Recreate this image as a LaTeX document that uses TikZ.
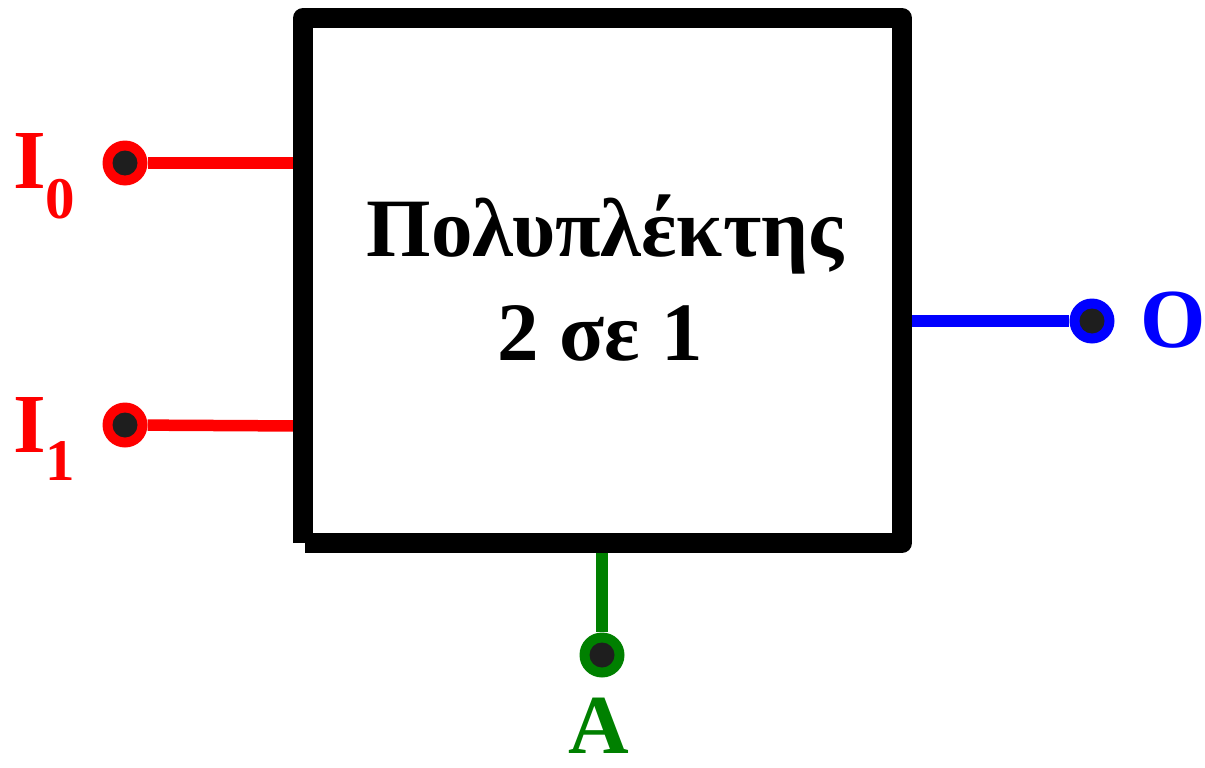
\documentclass[tikz,border=0pt]{standalone}
\usepackage{fontspec}
\setmainfont{Liberation Serif}
\usetikzlibrary{positioning}
\definecolor{wirered}{RGB}{255,0,0}
\definecolor{wireblue}{RGB}{0,0,255}
\definecolor{wiregreen}{RGB}{0,128,0}
\definecolor{dotgray}{RGB}{30,30,30}

\begin{document}
\begin{tikzpicture}[
    x=1pt, y=-1pt,
    boxline/.style={line width=20pt, black, line join=round, line cap=butt},
    wire/.style={line width=11.5pt, #1},
    term/.style={circle, fill=#1, inner sep=0pt, minimum size=45pt,
        path picture={\fill[dotgray] (path picture bounding box.center) circle (12.5pt);}},
    lbl/.style={font=\fontsize{84}{84}\selectfont\bfseries, text=#1, inner sep=0pt},
    title/.style={font=\fontsize{83}{83}\selectfont\bfseries, inner sep=0pt, anchor=base},
]
\useasboundingbox (0,0) rectangle (1205,768);

%--- Coordinates ---
\def\bxL{303}     % box left edge
\def\bxR{902}     % box right edge
\def\bxT{18}      % box top edge
\def\bxB{543}     % box bottom edge
\def\sub#1#2{\raisebox{-#1pt}{\fontsize{59}{59}\selectfont #2}}

%============================================================
% Terminals
%============================================================
\node[term=wirered]   (i0) at (125,163) {};
\node[term=wirered]   (i1) at (125,425) {};
\node[term=wireblue]  (o)  at (1092,321) {};
\node[term=wiregreen] (a)  at (602,655) {};

\coordinate (i0in) at (\bxL,163);
\coordinate (i1in) at (\bxL,426);
\coordinate (oout) at (\bxR,321);
\coordinate (ain)  at (602,\bxB);

%============================================================
% Wires
%============================================================
\draw[wire=wirered]   (i0) -- (i0in);
\draw[wire=wirered]   (i1) -- (i1in);
\draw[wire=wireblue]  (oout) -- (o);
\draw[wire=wiregreen] (ain) -- (a);

%============================================================
% Multiplexer box
%============================================================
\draw[boxline] (\bxL,\bxB) -- (\bxL,\bxT) -- (\bxR,\bxT) -- (\bxR,\bxB) -- (305,\bxB);
\node[title] (mux)    at (605,256) {Πολυπλέκτης};
\node[title] (muxsub) at (600,360) {2 σε 1};

%============================================================
% Labels
%============================================================
\node[lbl=wirered, anchor=base west]   (lblI0) at (13,188)  {I\sub{30}{0}};
\node[lbl=wirered, anchor=base west]   (lblI1) at (13,452)  {I\sub{28}{1}};
\node[lbl=wireblue, anchor=base west]  (lblO)  at (1140,347) {O};
\node[lbl=wiregreen, anchor=base]      (lblA)  at (599,753) {A};

\end{tikzpicture}
\end{document}
